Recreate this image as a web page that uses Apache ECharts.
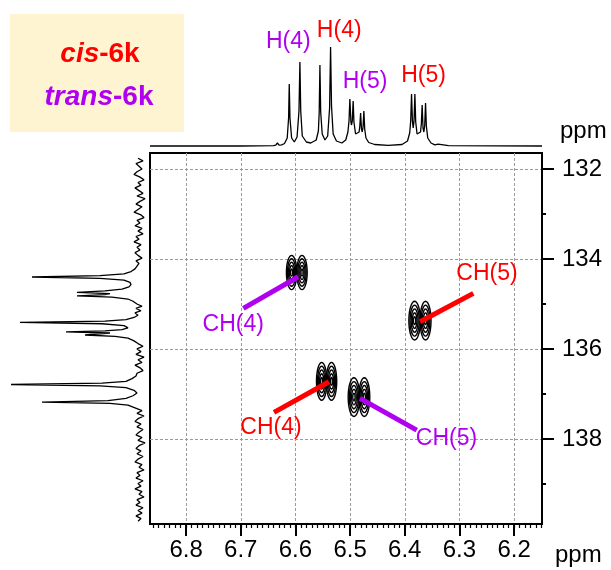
<!DOCTYPE html>
<html>
<head>
<meta charset="utf-8">
<script src="https://cdn.jsdelivr.net/npm/echarts@6/dist/echarts.min.js"></script>
<style>
  html, body { margin: 0; padding: 0; background: #fff; }
  #chart { width: 611px; height: 570px; }
</style>
</head>
<body>
<div id="chart"></div>
<script>
// 1H projection (top), [ppm, intensity]
const f2Trace = [
  [6.866, 0], [6.70, 0], [6.64, 0.3], [6.636, 0.8], [6.633, 3], [6.630, 0.8], [6.625, 1.2],
  [6.620, 2.5], [6.615, 8], [6.6125, 28], [6.6113, 62], [6.610, 28], [6.607, 8], [6.602, 4],
  [6.597, 9], [6.5935, 35], [6.5918, 84], [6.5903, 35], [6.5875, 10], [6.580, 4], [6.572, 3],
  [6.562, 6], [6.558, 15], [6.5565, 34], [6.5552, 81], [6.5538, 34], [6.551, 12], [6.546, 6],
  [6.541, 10], [6.5375, 38], [6.5357, 99], [6.534, 40], [6.531, 12], [6.525, 5], [6.515, 3],
  [6.508, 6], [6.504, 14], [6.502, 25], [6.5004, 47], [6.4985, 24], [6.4974, 21], [6.496, 25],
  [6.4944, 45], [6.493, 24], [6.490, 12], [6.4865, 10],
  [6.4835, 14], [6.4822, 20], [6.4808, 33], [6.4792, 17], [6.4778, 14], [6.4763, 19],
  [6.4748, 35], [6.4733, 17], [6.471, 8], [6.466, 3.5], [6.455, 1.5], [6.43, 0.6],
  [6.405, 1.5], [6.395, 5], [6.391, 13], [6.3892, 25], [6.3876, 52], [6.386, 25], [6.3846, 18],
  [6.3831, 25], [6.3815, 52], [6.380, 24], [6.3775, 12], [6.374, 10],
  [6.3712, 14], [6.3697, 22], [6.3682, 41], [6.3666, 18], [6.3651, 14], [6.3636, 20],
  [6.362, 43], [6.3605, 20], [6.358, 8], [6.352, 3], [6.345, 1.2], [6.339, 1.8], [6.336, 0.8],
  [6.32, 0.3], [6.149, 0]
];

// 13C projection (left), [ppm, intensity]
const f1Trace = [
  [131.76, 2], [131.82, -3], [131.88, 4], [131.94, 1], [132.00, -2], [132.06, 3], [132.12, 6],
  [132.18, 0], [132.24, -4], [132.30, 2], [132.36, -1], [132.42, 5], [132.48, 1], [132.54, -3],
  [132.60, 3], [132.66, -5], [132.72, 0], [132.78, 4], [132.84, -2], [132.90, 2], [132.96, 6],
  [133.02, -1], [133.08, -4], [133.14, 3], [133.20, 0], [133.26, 5], [133.32, -2], [133.38, 2],
  [133.44, -3], [133.50, 4], [133.56, 1], [133.62, 6], [133.68, -1], [133.74, 3], [133.80, 0],
  [133.86, 5], [133.92, 2], [133.98, -2], [134.04, 4], [134.10, 1], [134.16, 3],
  [134.22, 5], [134.28, 9], [134.33, 16], [134.37, 40], [134.40, 108], [134.43, 40], [134.47, 16],
  [134.52, 10], [134.57, 9], [134.62, 11],
  [134.67, 18], [134.71, 35], [134.74, 63], [134.77, 30], [134.79, 35], [134.82, 63], [134.85, 28],
  [134.89, 12], [134.94, 7],
  [135.00, 3], [135.05, -2], [135.10, 4], [135.15, -1], [135.20, 5], [135.25, 2],
  [135.30, 6], [135.35, 14], [135.38, 35], [135.41, 120], [135.44, 38], [135.48, 16], [135.53, 12],
  [135.57, 18], [135.60, 35], [135.62, 74], [135.645, 30], [135.67, 30], [135.69, 55], [135.72, 25],
  [135.76, 12], [135.82, 6],
  [135.88, 2], [135.94, -3], [136.00, 3], [136.06, -1], [136.12, 4], [136.18, -4], [136.24, 2],
  [136.30, -2], [136.36, 5], [136.42, 0], [136.48, -3], [136.54, 3],
  [136.60, 4], [136.66, 8], [136.72, 14], [136.76, 38], [136.79, 129], [136.82, 40], [136.86, 14],
  [136.92, 6], [136.98, 3], [137.04, 7],
  [137.10, 14], [137.15, 32], [137.18, 98], [137.21, 30], [137.25, 12], [137.31, 5],
  [137.37, -2], [137.43, 3], [137.49, -4], [137.55, 2], [137.61, 5], [137.67, -1], [137.73, 3],
  [137.79, -3], [137.85, 1], [137.91, 4], [137.97, -2], [138.03, 2], [138.09, -5], [138.15, 1],
  [138.21, 4], [138.27, -1], [138.33, 3], [138.39, -3], [138.45, 2], [138.51, 5], [138.57, -2],
  [138.63, 1], [138.69, -4], [138.75, 3], [138.81, 0], [138.87, 4], [138.93, -3], [138.99, 2],
  [139.05, -1], [139.11, 5], [139.17, -2], [139.23, 1], [139.29, -4], [139.35, 3], [139.41, 0],
  [139.47, 4], [139.53, -3], [139.59, 2], [139.65, -2], [139.71, 4], [139.77, -1], [139.83, 2]
];

// HSQC cross peak lobes: [1H ppm, 13C ppm, half width 1H, half width 13C]
const crossLobes = [
  [6.607, 134.30, 0.0095, 0.38], [6.588, 134.30, 0.0095, 0.38],
  [6.552, 136.72, 0.0095, 0.42], [6.534, 136.72, 0.0095, 0.42],
  [6.382, 135.37, 0.0105, 0.43], [6.362, 135.37, 0.0100, 0.43],
  [6.493, 137.07, 0.0105, 0.43], [6.474, 137.07, 0.0100, 0.43]
];
const contourLevels = [1, 0.8, 0.6, 0.4, 0.2];

const xMajor = [6.2, 6.3, 6.4, 6.5, 6.6, 6.7, 6.8];
const yMajor = [132, 134, 136, 138];
const yMinor = [133, 135, 137, 139];
const xMinor = [];
for (let k = 615; k <= 686; k++) xMinor.push(k / 100);

const annotations = [
  { text: 'CH(4)', isomer: 'trans', from: [6.6953, 135.097], to: [6.5947, 134.395], label: [6.7137, 135.47] },
  { text: 'CH(4)', isomer: 'cis', from: [6.6392, 137.41], to: [6.5386, 136.73], label: [6.6447, 137.76] },
  { text: 'CH(5)', isomer: 'cis', from: [6.2746, 134.764], to: [6.3721, 135.395], label: [6.2496, 134.335] },
  { text: 'CH(5)', isomer: 'trans', from: [6.3781, 137.804], to: [6.4819, 137.099], label: [6.3237, 138.004] }
];
const topLabels = [
  { text: 'H(4)', isomer: 'trans', pos: [6.6131, 104] },
  { text: 'H(4)', isomer: 'cis', pos: [6.5199, 115] },
  { text: 'H(5)', isomer: 'trans', pos: [6.4727, 64] },
  { text: 'H(5)', isomer: 'cis', pos: [6.3657, 70] }
];

const colors = { cis: '#FF0000', trans: '#B000F0' };
const FONT = 'Liberation Sans, Arial, sans-serif';
const X_MIN = 6.149, X_MAX = 6.866, Y_MIN = 131.644, Y_MAX = 139.891;

const contourData = [];
crossLobes.forEach(l => {
  contourLevels.forEach(f => contourData.push([l[0], l[1], l[2] * f, l[3] * f]));
});

const chart = echarts.init(document.getElementById('chart'));

const mainRect = { left: 150, top: 153, width: 392, height: 371 };

const option = {
  animation: false,
  grid: [
    Object.assign({ show: true, borderColor: '#000', borderWidth: 2, backgroundColor: 'transparent' }, mainRect),
    { left: 150, top: 40, width: 392, height: 110 },
    { left: 0, top: 153, width: 150, height: 371 },
    Object.assign({ show: false }, mainRect)
  ],
  xAxis: [
    {
      gridIndex: 0, type: 'value', min: X_MIN, max: X_MAX, inverse: true, position: 'bottom',
      axisLine: { show: true, onZero: false, lineStyle: { color: '#000', width: 2 } },
      axisTick: { show: true, length: 12, customValues: xMajor, lineStyle: { color: '#000', width: 2 } },
      axisLabel: {
        customValues: xMajor, margin: 14, color: '#000', fontSize: 24, fontFamily: FONT,
        formatter: v => v.toFixed(1)
      },
      splitLine: { show: true, lineStyle: { color: '#9a9a9a', width: 1, type: [3, 2] } }
    },
    {
      gridIndex: 1, type: 'value', min: X_MIN, max: X_MAX, inverse: true, show: false
    },
    {
      gridIndex: 2, type: 'value', min: -10, max: 140, inverse: true, show: false
    },
    {
      gridIndex: 3, type: 'value', min: X_MIN, max: X_MAX, inverse: true, position: 'bottom',
      axisLine: { show: true, onZero: false, lineStyle: { color: '#000', width: 2 } },
      axisTick: { show: true, length: 4, customValues: xMinor, lineStyle: { color: '#000', width: 1.2 } },
      axisLabel: { show: false },
      splitLine: { show: false }
    }
  ],
  yAxis: [
    {
      gridIndex: 0, type: 'value', min: Y_MIN, max: Y_MAX, inverse: true, position: 'right',
      axisLine: { show: true, onZero: false, lineStyle: { color: '#000', width: 2 } },
      axisTick: { show: true, length: 12, customValues: yMajor, lineStyle: { color: '#000', width: 2 } },
      axisLabel: { customValues: yMajor, margin: 20, color: '#000', fontSize: 24, fontFamily: FONT },
      splitLine: { show: true, lineStyle: { color: '#9a9a9a', width: 1, type: [3, 2] } }
    },
    { gridIndex: 1, type: 'value', min: -4, max: 106, show: false },
    { gridIndex: 2, type: 'value', min: Y_MIN, max: Y_MAX, inverse: true, show: false },
    {
      gridIndex: 3, type: 'value', min: Y_MIN, max: Y_MAX, inverse: true, position: 'right',
      axisLine: { show: true, onZero: false, lineStyle: { color: '#000', width: 2 } },
      axisTick: { show: true, length: 4, customValues: yMinor, lineStyle: { color: '#000', width: 2 } },
      axisLabel: { show: false },
      splitLine: { show: false }
    }
  ],
  graphic: [
    { type: 'rect', shape: { x: 10, y: 14, width: 174, height: 118 }, style: { fill: '#FFF4D1' }, z: 0 },
    {
      type: 'text', x: 100, y: 54, z: 10,
      style: {
        text: '{i|cis}{n|-6k}', align: 'center', verticalAlign: 'middle',
        rich: {
          i: { fontStyle: 'italic', fontWeight: 'bold', fontSize: 28, fontFamily: FONT, fill: colors.cis },
          n: { fontWeight: 'bold', fontSize: 28, fontFamily: FONT, fill: colors.cis }
        }
      }
    },
    {
      type: 'text', x: 99, y: 97, z: 10,
      style: {
        text: '{i|trans}{n|-6k}', align: 'center', verticalAlign: 'middle',
        rich: {
          i: { fontStyle: 'italic', fontWeight: 'bold', fontSize: 28, fontFamily: FONT, fill: colors.trans },
          n: { fontWeight: 'bold', fontSize: 28, fontFamily: FONT, fill: colors.trans }
        }
      }
    },
    {
      type: 'text', x: 560, y: 131, z: 10,
      style: { text: 'ppm', fontSize: 24, fontFamily: FONT, fill: '#000', align: 'left', verticalAlign: 'middle' }
    },
    {
      type: 'text', x: 555, y: 555, z: 10,
      style: { text: 'ppm', fontSize: 24, fontFamily: FONT, fill: '#000', align: 'left', verticalAlign: 'middle' }
    }
  ],
  series: [
    {
      type: 'line', xAxisIndex: 1, yAxisIndex: 1, data: f2Trace, showSymbol: false,
      lineStyle: { color: '#000', width: 1.3 }, clip: false, silent: true
    },
    {
      type: 'line', xAxisIndex: 2, yAxisIndex: 2, data: f1Trace.map(p => [p[1], p[0]]), showSymbol: false,
      lineStyle: { color: '#000', width: 1.3 }, clip: false, silent: true
    },
    {
      type: 'custom', xAxisIndex: 0, yAxisIndex: 0, data: contourData, silent: true, z: 3,
      renderItem: (params, api) => {
        const x = api.value(0), y = api.value(1), rx = api.value(2), ry = api.value(3);
        const pts = [];
        for (let i = 0; i < 40; i++) {
          const t = i / 40 * Math.PI * 2;
          pts.push(api.coord([x + rx * Math.cos(t), y + ry * Math.sin(t)]));
        }
        return { type: 'polygon', shape: { points: pts }, style: { fill: 'none', stroke: '#000', lineWidth: 1.4 } };
      }
    },
    {
      type: 'custom', xAxisIndex: 0, yAxisIndex: 0, silent: true, z: 5,
      data: annotations.map(a => [a.from[0], a.from[1], a.to[0], a.to[1], a.label[0], a.label[1]]),
      renderItem: (params, api) => {
        const a = annotations[params.dataIndex];
        const p1 = api.coord([api.value(0), api.value(1)]);
        const p2 = api.coord([api.value(2), api.value(3)]);
        const pl = api.coord([api.value(4), api.value(5)]);
        const c = colors[a.isomer];
        return {
          type: 'group',
          children: [
            { type: 'line', shape: { x1: p1[0], y1: p1[1], x2: p2[0], y2: p2[1] }, style: { stroke: c, lineWidth: 5 } },
            { type: 'text', x: pl[0], y: pl[1], style: { text: a.text, fill: c, fontSize: 23, fontFamily: FONT, align: 'center', verticalAlign: 'middle' } }
          ]
        };
      }
    },
    {
      type: 'custom', xAxisIndex: 1, yAxisIndex: 1, silent: true, z: 5, clip: false,
      data: topLabels.map(l => l.pos),
      renderItem: (params, api) => {
        const l = topLabels[params.dataIndex];
        const p = api.coord([api.value(0), api.value(1)]);
        return { type: 'text', x: p[0], y: p[1], style: { text: l.text, fill: colors[l.isomer], fontSize: 23, fontFamily: FONT, align: 'center', verticalAlign: 'middle' } };
      }
    }
  ]
};

chart.setOption(option);
</script>
</body>
</html>
